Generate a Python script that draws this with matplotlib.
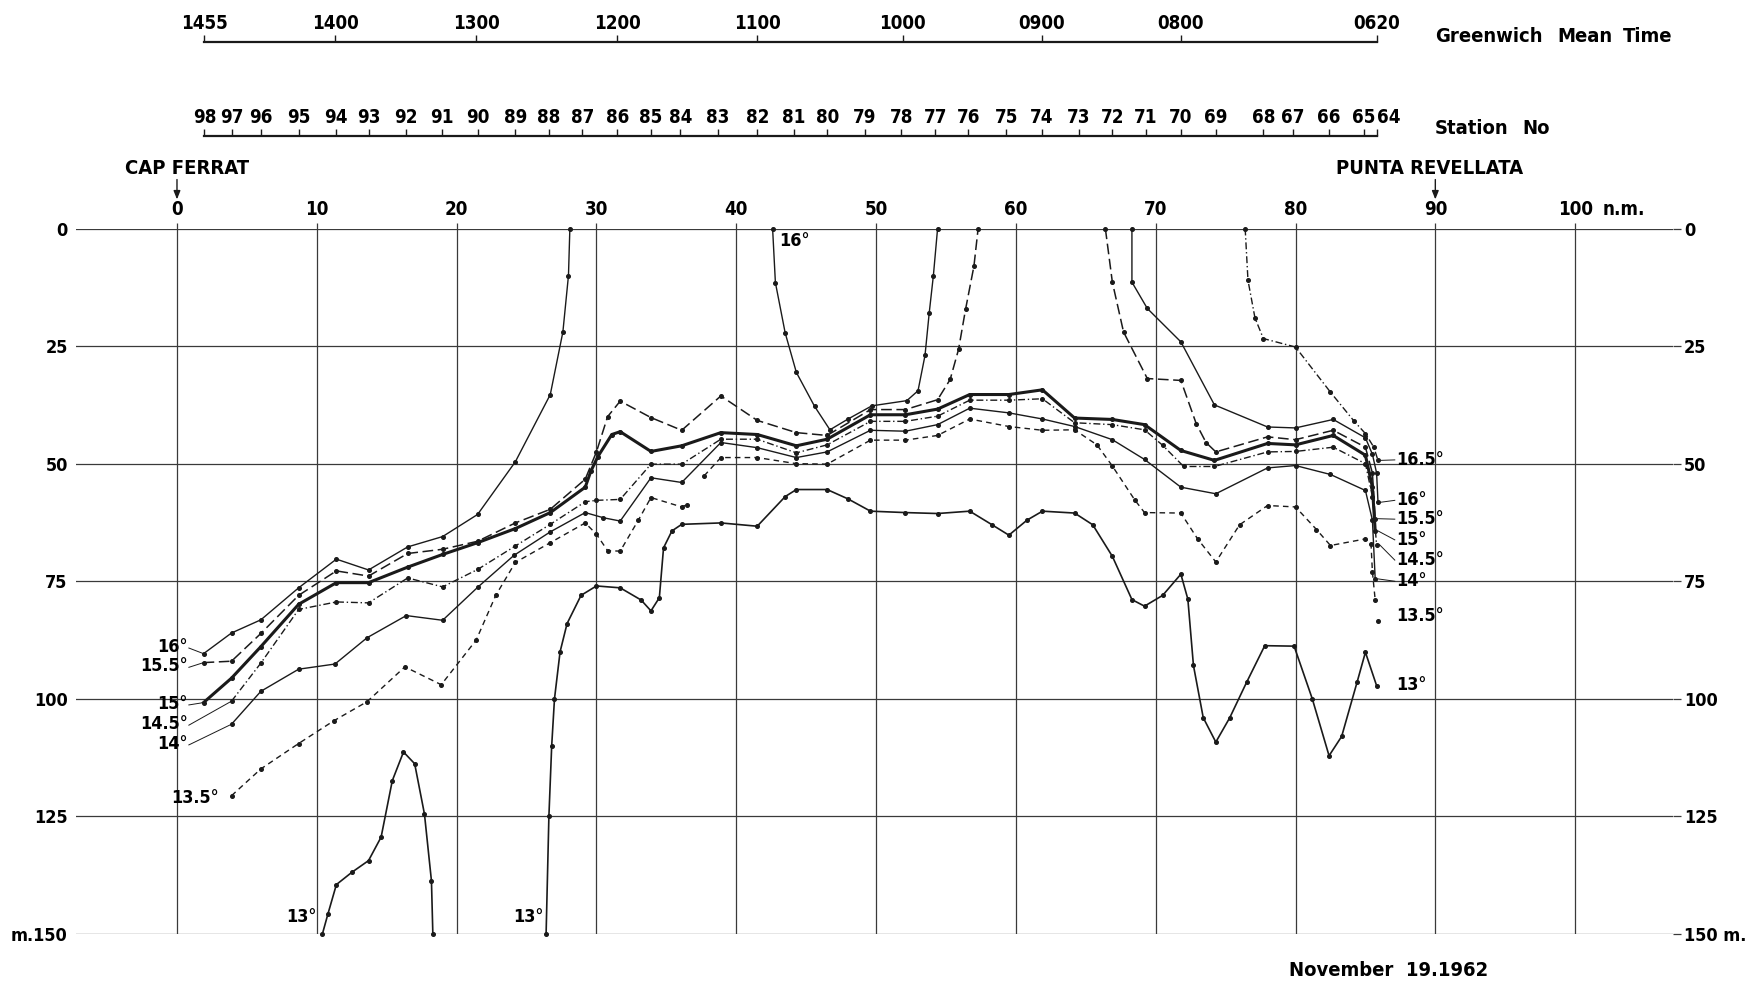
# -*- coding: utf-8 -*-

"""
Seccion de temperatura Cap Ferrat - Punta Revellata (19 noviembre 1962).
Isotermas dibujadas a partir de los puntos leidos en la figura original.
"""
import matplotlib
matplotlib.use('Agg')
import matplotlib.pyplot as plt

plt.rcParams['font.family'] = ['DejaVu Sans']
plt.rcParams['font.weight'] = 'bold'
plt.rcParams['font.stretch'] = 'condensed'

# Escalas superiores (posicion en millas nauticas)
stations = [98, 97, 96, 95, 94, 93, 92, 91, 90, 89, 88, 87, 86, 85, 84, 83, 82,
            81, 80, 79, 78, 77, 76, 75, 74, 73, 72, 71, 70, 69, 68, 67, 66, 65, 64]
station_nm = [1.96, 3.91, 6.02, 8.73, 11.34, 13.75, 16.38, 18.94, 21.5, 24.2, 26.6,
              29.0, 31.5, 33.9, 36.0, 38.7, 41.5, 44.1, 46.5, 49.2, 51.8, 54.25,
              56.6, 59.3, 61.85, 64.5, 66.9, 69.3, 71.8, 74.3, 77.7, 79.8, 82.4,
              84.9, 85.8]
gmt_labels = ['1455', '1400', '1300', '1200', '1100', '1000', '0900', '0800', '0620']
gmt_nm = [1.96, 11.3, 21.4, 31.5, 41.5, 51.9, 61.85, 71.8, 85.8]

# Ejes principales
dist_ticks = [0, 10, 20, 30, 40, 50, 60, 70, 80, 90, 100]
depth_ticks = [0, 25, 50, 75, 100, 125, 150]
depth_left = ['0', '25', '50', '75', '100', '125', 'm.150']
depth_right = ['0', '25', '50', '75', '100', '125', '150 m.']

# Isotermas: (distancia n.m., profundidad m)
iso_165 = [(76.4, 0), (76.6, 11), (77.1, 19), (77.7, 23.4), (80.0, 25.2), (82.5, 34.8),
           (84.2, 41), (85.0, 43.6), (85.6, 46.5), (85.9, 49.3)]
iso_16_a = [(1.9, 90.4), (3.9, 86.0), (6.0, 83.2), (8.7, 76.4), (11.4, 70.3), (13.7, 72.6),
            (16.5, 67.7), (19.0, 65.5), (21.5, 60.8), (24.2, 49.6), (26.7, 35.3), (27.6, 22),
            (28.0, 10), (28.1, 0)]
iso_16_b = [(42.6, 0), (42.8, 11.5), (43.5, 22.2), (44.3, 30.6), (45.6, 37.8), (46.7, 42.8),
            (48.0, 40.5), (49.7, 37.7), (52.2, 36.6), (53.0, 34.5), (53.5, 27), (53.8, 18),
            (54.1, 10), (54.4, 0)]
iso_16_c = [(68.3, 0), (68.3, 11.4), (69.4, 17.0), (71.8, 24.1), (74.2, 37.5), (78.0, 42.2),
            (80.0, 42.4), (82.7, 40.6), (85.0, 44.5), (85.5, 48), (85.8, 52), (85.9, 58.2)]
iso_155_a = [(1.9, 92.3), (3.9, 92.0), (6.0, 86.1), (8.7, 78.0), (11.4, 72.8), (13.7, 73.9),
             (16.5, 69.1), (19.0, 68.2), (21.5, 66.5), (24.2, 62.6), (26.7, 59.7), (29.2, 53.3),
             (30.0, 47.5), (30.8, 40), (31.7, 36.7), (33.9, 40.2), (36.1, 42.9), (38.9, 35.6),
             (41.5, 40.8), (44.3, 43.4), (46.5, 44.0), (49.6, 38.5), (52.1, 38.5), (54.4, 36.4),
             (55.3, 32.1), (55.9, 25.7), (56.4, 17.2), (57.0, 8.0), (57.3, 0)]
iso_155_b = [(66.4, 0), (66.9, 11.4), (67.7, 22), (69.4, 31.9), (71.8, 32.3), (72.9, 41.5),
             (73.6, 45.5), (74.3, 47.5), (78.0, 44.3), (80.0, 44.9), (82.7, 42.9), (85.0, 46.5),
             (85.5, 52), (85.7, 61.7)]
iso_15 = [(1.9, 100.8), (3.9, 95.6), (6.0, 88.9), (8.7, 79.9), (11.4, 75.3), (13.7, 75.3),
          (16.5, 72.0), (19.0, 69.3), (21.5, 66.8), (24.2, 63.8), (26.7, 60.4), (29.2, 55.0),
          (29.6, 51.6), (30.1, 48.5), (31.1, 43.8), (31.7, 43.2), (33.9, 47.4), (36.1, 46.2),
          (38.9, 43.4), (41.5, 43.8), (44.3, 46.2), (46.5, 44.8), (49.6, 39.6), (52.1, 39.6),
          (54.4, 38.4), (56.7, 35.3), (59.5, 35.3), (61.9, 34.3), (64.2, 40.3), (66.9, 40.6),
          (69.2, 41.7), (71.8, 47.2), (74.2, 49.3), (78.0, 45.7), (80.0, 46.0), (82.7, 44.0),
          (85.0, 48.2), (85.5, 55), (85.7, 64.3)]
iso_145 = [(3.9, 100.5), (6.0, 92.4), (8.7, 81.0), (11.4, 79.4), (13.7, 79.6), (16.5, 74.3),
           (19.0, 76.2), (21.5, 72.5), (24.2, 67.5), (26.7, 62.9), (29.2, 58.1), (30.0, 57.8),
           (31.7, 57.6), (33.9, 50.1), (36.1, 50.1), (38.9, 44.8), (41.5, 44.8), (44.3, 47.7),
           (46.5, 46.0), (49.6, 41.0), (52.1, 41.0), (54.4, 39.9), (56.7, 36.5), (59.5, 36.5),
           (61.9, 36.2), (64.2, 41.3), (66.9, 41.7), (69.2, 42.8), (70.5, 46.1), (72.0, 50.6),
           (74.2, 50.6), (78.0, 47.5), (80.0, 47.4), (82.7, 46.5), (85.0, 50.0), (85.5, 57),
           (85.8, 67.2)]
iso_14 = [(3.9, 105.4), (6.0, 98.4), (8.7, 93.7), (11.3, 92.6), (13.6, 87.0), (16.4, 82.3),
          (19.0, 83.3), (21.5, 76.3), (24.1, 69.5), (26.7, 64.5), (29.2, 60.4), (30.5, 61.5),
          (31.7, 62.2), (33.9, 53.0), (36.1, 54.0), (38.9, 45.5), (41.5, 46.6), (44.3, 48.7),
          (46.5, 47.5), (49.6, 42.9), (52.1, 43.1), (54.4, 41.7), (56.7, 38.2), (59.5, 39.2),
          (61.9, 40.5), (64.2, 42.1), (66.9, 44.9), (69.2, 49.1), (71.8, 55.0), (74.3, 56.4),
          (78.0, 50.9), (80.0, 50.4), (82.5, 52.3), (85.0, 55.7), (85.5, 62), (85.7, 74.5)]
iso_135_a = [(3.9, 120.6), (6.0, 114.9), (8.7, 109.5), (11.2, 104.7), (13.6, 100.6),
             (16.3, 93.2), (18.9, 97.0), (21.4, 87.5), (22.8, 78), (24.2, 71.0), (26.7, 66.8),
             (29.2, 62.6), (30.0, 65.0), (30.8, 68.5), (31.7, 68.6), (33.0, 62), (33.9, 57.2),
             (36.1, 59.2), (36.5, 58.7)]
iso_135_b = [(37.7, 52.6), (38.9, 48.7), (41.5, 48.7), (44.3, 50.0), (46.5, 50.1), (49.6, 45.0),
             (52.1, 45.0), (54.4, 44.0), (56.7, 40.5), (59.5, 42.1), (61.9, 42.9), (64.2, 42.8),
             (65.8, 46), (66.9, 50.5), (68.5, 57.7), (69.2, 60.4), (71.8, 60.5), (73.0, 66),
             (74.3, 70.9), (76.0, 63), (78.0, 58.9), (80.0, 59.2), (81.5, 64), (82.5, 67.4),
             (85.0, 66.0), (85.4, 67), (85.5, 73), (85.7, 79)]
iso_135_dot = [(85.9, 83.5)]
iso_13_a = [(10.4, 150), (10.8, 145.7), (11.4, 139.5), (12.5, 136.9), (13.7, 134.4),
            (14.6, 129.4), (15.4, 117.4), (16.2, 111.3), (17.0, 113.8), (17.7, 124.5),
            (18.2, 138.7), (18.3, 150)]
iso_13_b = [(26.4, 150), (26.6, 125), (26.8, 110), (27.0, 100), (27.4, 90), (27.9, 84),
            (28.9, 78), (30.0, 76), (31.7, 76.4), (33.2, 79), (33.9, 81.3), (34.5, 78.5),
            (34.8, 67.9), (35.4, 64.3), (36.1, 62.9), (38.9, 62.6), (41.5, 63.3), (43.5, 57),
            (44.3, 55.5), (46.5, 55.5), (48.0, 57.5), (49.6, 60.1), (52.1, 60.4), (54.4, 60.6),
            (56.7, 60.1), (58.3, 63), (59.5, 65.2), (60.8, 62), (61.9, 60.1), (64.2, 60.5),
            (65.5, 63), (66.9, 69.7), (68.3, 78.9), (69.2, 80.3), (70.5, 78), (71.8, 73.5),
            (72.3, 78.8), (72.7, 92.9), (73.4, 104), (74.3, 109.2), (75.3, 104), (76.5, 96.5),
            (77.8, 88.7), (79.9, 88.8), (81.2, 100), (82.4, 112.1), (83.3, 108), (84.4, 96.5),
            (85.0, 90.1), (85.8, 97.2)]

isotermas = [('16.5', iso_165), ('16', iso_16_a), ('16', iso_16_b), ('16', iso_16_c),
             ('15.5', iso_155_a), ('15.5', iso_155_b), ('15', iso_15), ('14.5', iso_145),
             ('14', iso_14), ('13.5', iso_135_a), ('13.5', iso_135_b), ('13', iso_13_a),
             ('13', iso_13_b)]

# Rotulos de isotermas: (texto, profundidad)
left_labels = [('16°', 88.9), ('15.5°', 93.0), ('15°', 101.0), ('14.5°', 105.3), ('14°', 109.5)]
left_label_lines = [iso_16_a, iso_155_a, iso_15, iso_145, iso_14]
right_labels = [('16.5°', 49.2), ('16°', 57.8), ('15.5°', 61.8), ('15°', 66.2), ('14.5°', 70.5),
                ('14°', 75.0), ('13.5°', 82.4), ('13°', 97.0)]
right_label_lines = [iso_165, iso_16_c, iso_155_b, iso_15, iso_145, iso_14, None, None]

_STYLE = {
    '16.5': dict(ls=(0, (5, 2, 1, 2)), lw=1.0),
    '16': dict(ls='-', lw=1.0),
    '15.5': dict(ls=(0, (7, 3)), lw=1.1),
    '15': dict(ls='-', lw=2.2),
    '14.5': dict(ls=(0, (5, 2, 1, 2)), lw=1.0),
    '14': dict(ls='-', lw=1.0),
    '13.5': dict(ls=(0, (4, 3)), lw=1.0),
    '13': dict(ls='-', lw=1.2),
}
_INK = '#1a1a1a'
_GRID = '#3a3a3a'
_FS = 13
_FS_NUM = 13.5
_FS_WORD = 14.5
X0, X1 = -7.22, 107.0
L, B, W, H = 0.0435, 0.0489, 0.9136, 0.7184

fig = plt.figure(figsize=(17.48, 9.82), dpi=100)
ax = fig.add_axes([L, B, W, H])
ax.set_xlim(X0, X1)
ax.set_ylim(150, 0)
for s in ax.spines.values():
    s.set_visible(False)
ax.set_xticks(dist_ticks)
ax.set_xticklabels([str(k) for k in dist_ticks])
ax.xaxis.tick_top()
ax.set_yticks(depth_ticks)
ax.set_yticklabels(depth_left)
ax.tick_params(axis='x', length=4, width=0.9, color=_GRID, pad=3, labelsize=_FS_NUM)
ax.tick_params(axis='y', length=0, pad=6, labelsize=_FS)
ax.grid(True, color=_GRID, lw=0.9)

ax_r = ax.twinx()
ax_r.set_ylim(150, 0)
for s in ax_r.spines.values():
    s.set_visible(False)
ax_r.set_yticks(depth_ticks)
ax_r.set_yticklabels(depth_right)
ax_r.tick_params(axis='y', length=6, width=0.9, color=_GRID, pad=2, labelsize=_FS)

ax.text(102.0, -4.0, 'n.m.', fontsize=_FS_NUM, ha='left', va='center', clip_on=False)

# Isotermas
for key, seg in isotermas:
    xs = [p[0] for p in seg]
    ds = [p[1] for p in seg]
    ax.plot(xs, ds, color=_INK, marker='o', ms=2.6, mfc=_INK, mec=_INK,
            dash_capstyle='butt', clip_on=False, **_STYLE[key])
ax.plot([p[0] for p in iso_135_dot], [p[1] for p in iso_135_dot], 'o', ms=2.6, color=_INK)

# Rotulos a la izquierda
for (txt, d), line in zip(left_labels, left_label_lines):
    ax.text(0.75, d, txt, fontsize=_FS, ha='right', va='center')
    ax.plot([0.85, line[0][0]], [d + 0.3, line[0][1]], color=_INK, lw=0.7)
ax.text(3.0, 121.0, '13.5°', fontsize=_FS, ha='right', va='center')

# Rotulos a la derecha
for (txt, d), line in zip(right_labels, right_label_lines):
    ax.text(87.2, d, txt, fontsize=_FS, ha='left', va='center')
    if line is not None:
        ax.plot([line[-1][0] + 0.2, 87.1], [line[-1][1], d], color=_INK, lw=0.7)

ax.text(43.1, 0.8, '16°', fontsize=_FS, ha='left', va='top')
ax.text(10.0, 146.4, '13°', fontsize=_FS, ha='right', va='center')
ax.text(26.2, 146.4, '13°', fontsize=_FS, ha='right', va='center')

# Cabos
for name, xpos, xtxt in [('CAP FERRAT', 0, 0.7), ('PUNTA REVELLATA', 90, 89.6)]:
    ax.text(xtxt, -12.7, name, fontsize=_FS_WORD, ha='center', va='center', clip_on=False)
    ax.annotate('', xy=(xpos, -5.6), xytext=(xpos, -11.0), annotation_clip=False,
                arrowprops=dict(arrowstyle='-|>,head_length=0.5,head_width=0.2',
                                color=_INK, lw=1.0))


def escala_superior(y_line, ticks, labels):
    axs = fig.add_axes([L, y_line - 0.02, W, 0.02])
    axs.set_xlim(X0, X1)
    axs.patch.set_visible(False)
    for k in ('left', 'right', 'bottom'):
        axs.spines[k].set_visible(False)
    axs.spines['top'].set_bounds(ticks[0], ticks[-1])
    axs.spines['top'].set_linewidth(1.6)
    axs.spines['top'].set_color(_INK)
    axs.set_yticks([])
    axs.xaxis.tick_top()
    axs.set_xticks(ticks)
    axs.set_xticklabels(labels)
    axs.tick_params(axis='x', length=5, width=1.0, color=_INK, pad=1.5, labelsize=_FS_NUM)
    return axs


escala_superior(1 - 42.4 / 982, gmt_nm, gmt_labels)
ax_st = escala_superior(1 - 136.0 / 982, station_nm, [str(k) for k in stations])
ax_st.get_xticklabels()[-1].set_horizontalalignment('left')

fig.text(1435 / 1748, 1 - 36 / 982, 'Greenwich', fontsize=_FS_WORD, ha='left', va='center')
fig.text(1557 / 1748, 1 - 36 / 982, 'Mean', fontsize=_FS_WORD, ha='left', va='center')
fig.text(1623 / 1748, 1 - 36 / 982, 'Time', fontsize=_FS_WORD, ha='left', va='center')
fig.text(1435 / 1748, 1 - 128 / 982, 'Station', fontsize=_FS_WORD, ha='left', va='center')
fig.text(1522 / 1748, 1 - 128 / 982, 'No', fontsize=_FS_WORD, ha='left', va='center')
fig.text(1389 / 1748, 1 - 971 / 982, 'November  19.1962', fontsize=_FS_WORD,
         ha='center', va='center')

fig.savefig('out.png', dpi=100, facecolor='white')
